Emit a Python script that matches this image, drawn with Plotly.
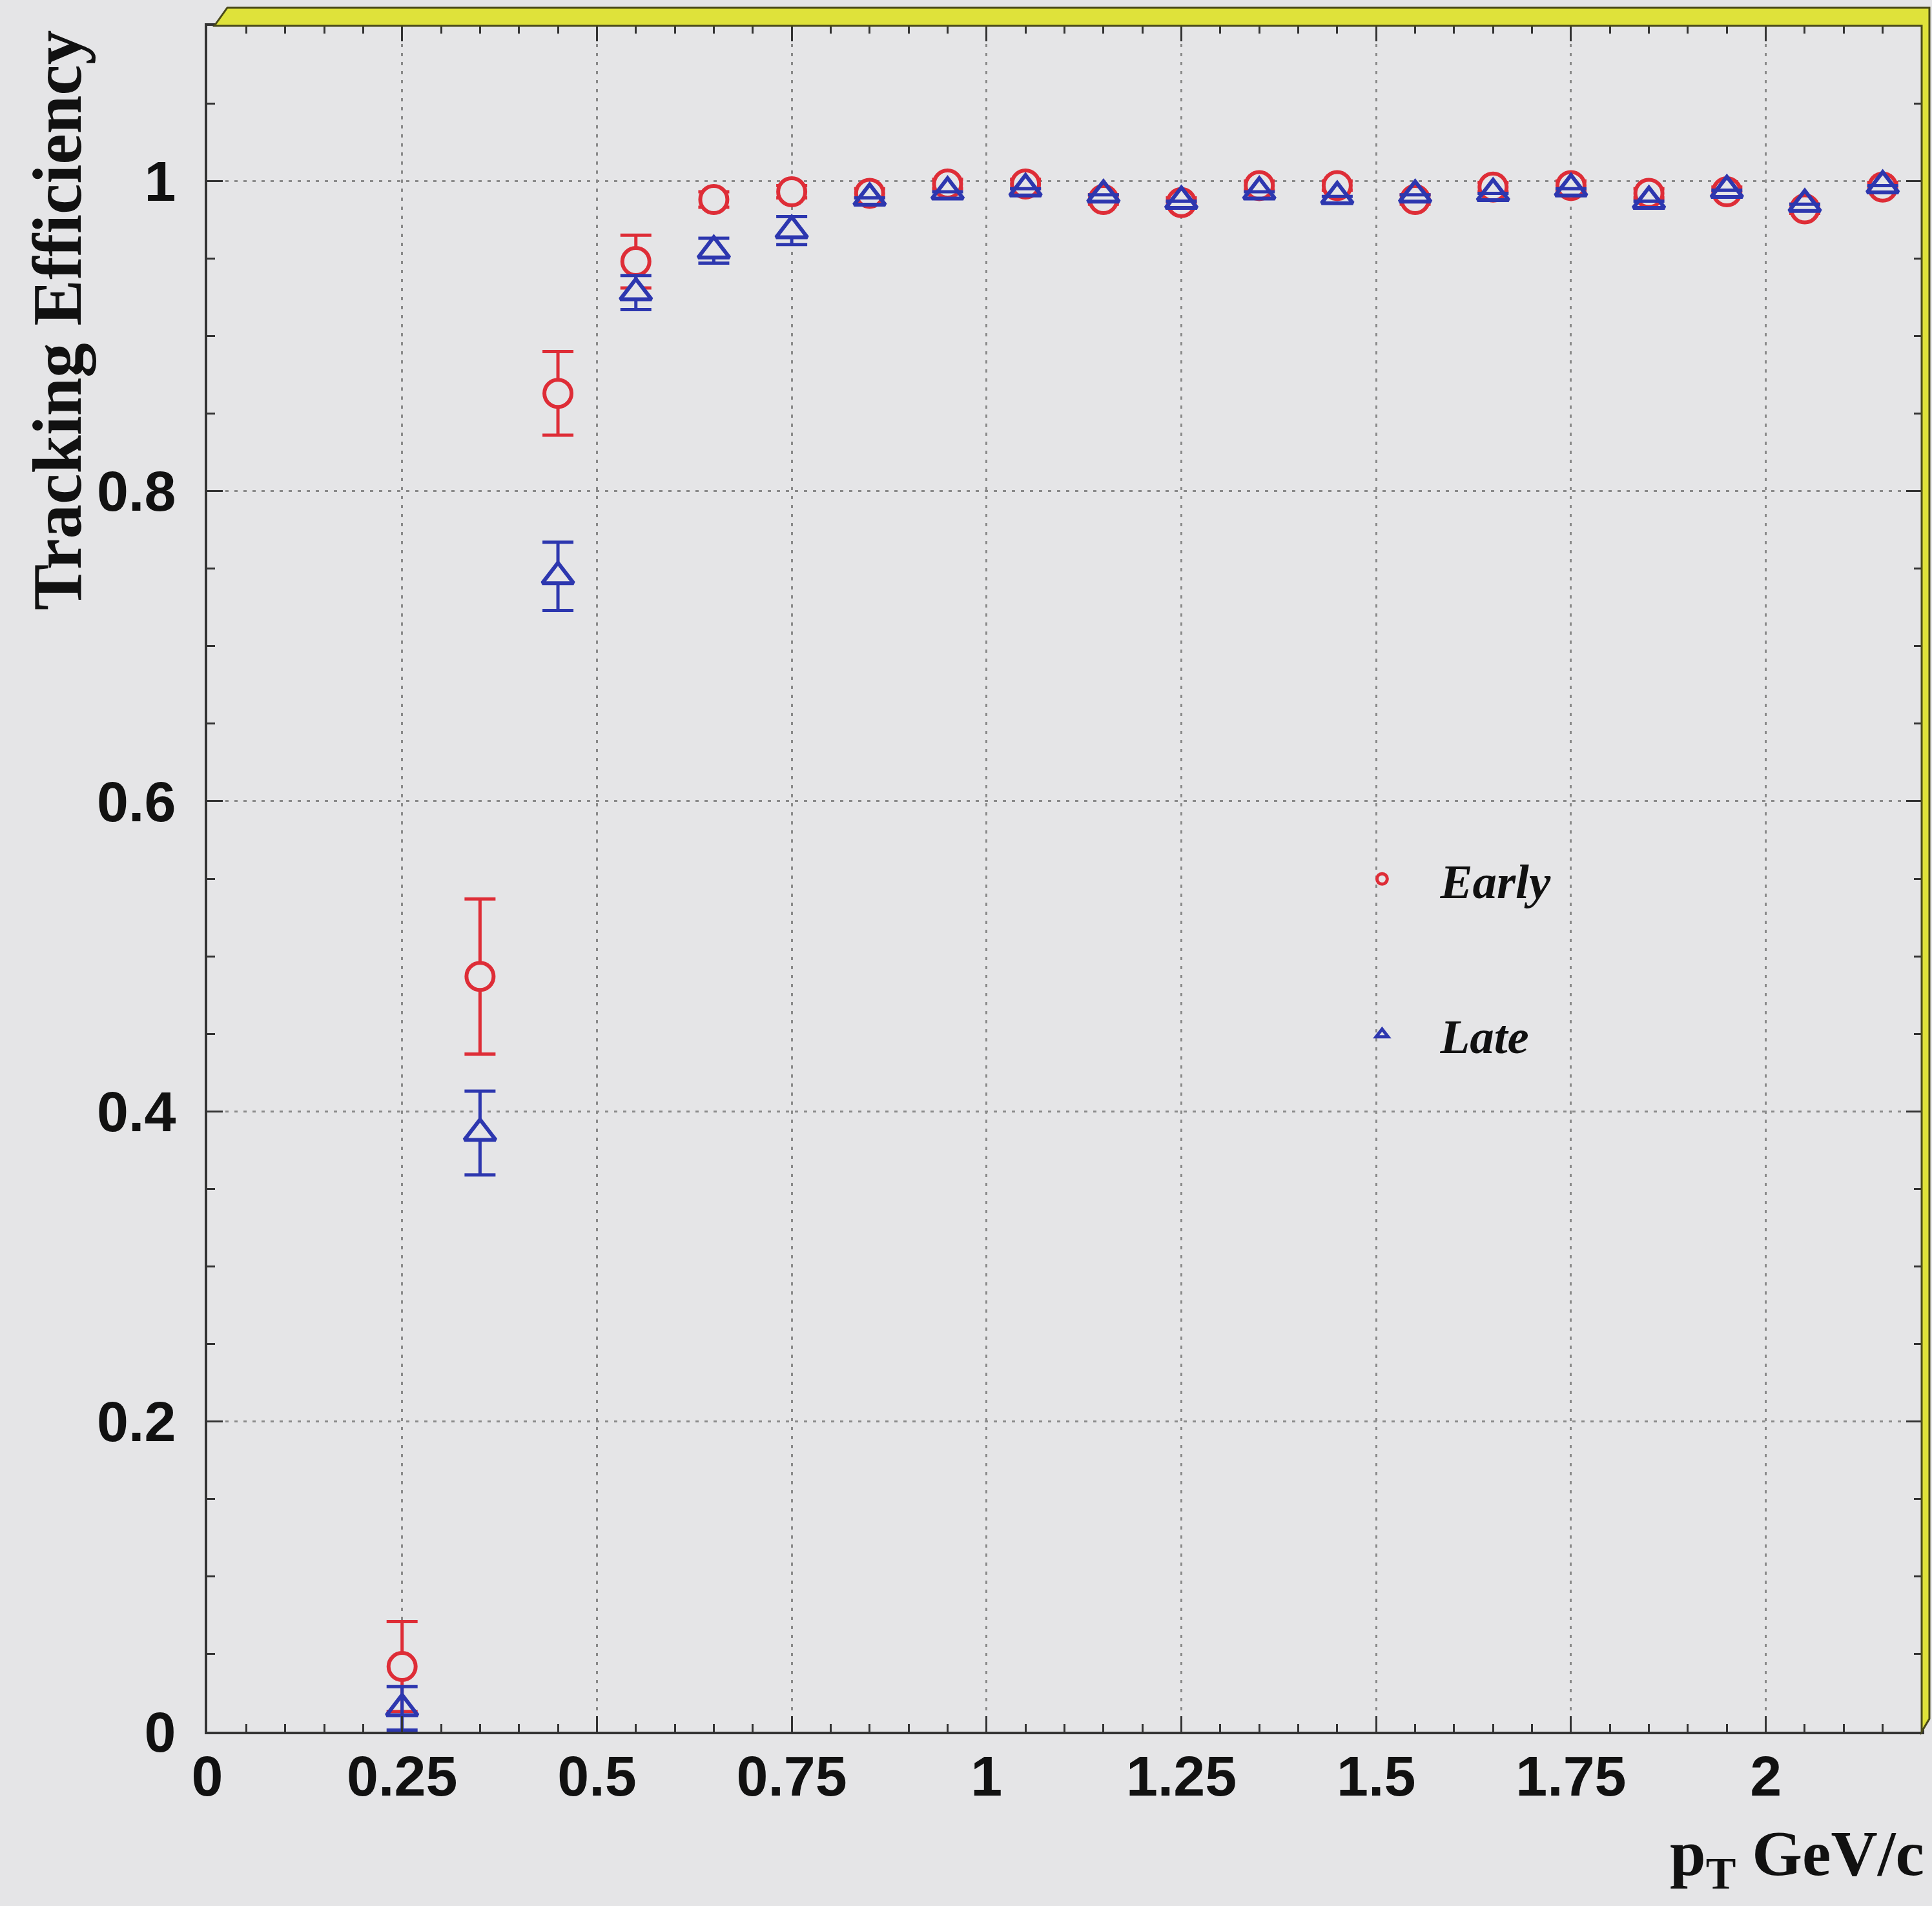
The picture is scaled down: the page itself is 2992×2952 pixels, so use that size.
import plotly.graph_objects as go

# ---------------- data ----------------
pt = [0.25, 0.35, 0.45, 0.55, 0.65, 0.75, 0.85, 0.95, 1.05, 1.15,
      1.25, 1.35, 1.45, 1.55, 1.65, 1.75, 1.85, 1.95, 2.05, 2.15]

early_eff = [0.042, 0.487, 0.863, 0.948, 0.988, 0.993, 0.992, 0.998, 0.998, 0.988,
             0.986, 0.997, 0.997, 0.988, 0.996, 0.997, 0.992, 0.993, 0.982, 0.996]
early_err = [0.029, 0.050, 0.027, 0.017, 0.005, 0.004, 0.003, 0.003, 0.003, 0.003,
             0.003, 0.003, 0.003, 0.003, 0.003, 0.003, 0.003, 0.003, 0.003, 0.003]

late_eff = [0.015, 0.386, 0.745, 0.928, 0.955, 0.968, 0.989, 0.993, 0.995, 0.991,
            0.987, 0.993, 0.990, 0.991, 0.992, 0.995, 0.987, 0.994, 0.985, 0.997]
late_err = [0.014, 0.027, 0.022, 0.011, 0.008, 0.009, 0.0, 0.0, 0.0, 0.0,
            0.0, 0.0, 0.0, 0.0, 0.0, 0.0, 0.0, 0.0, 0.0, 0.0]

series_names = ["Early", "Late"]
x_tick_vals = [0, 0.25, 0.5, 0.75, 1, 1.25, 1.5, 1.75, 2]
x_tick_text = ["0", "0.25", "0.5", "0.75", "1", "1.25", "1.5", "1.75", "2"]
y_tick_vals = [0, 0.2, 0.4, 0.6, 0.8, 1]
y_tick_text = ["0", "0.2", "0.4", "0.6", "0.8", "1"]
x_title = "p<sub>T</sub> GeV/c"
y_title = "Tracking Efficiency"

# ---------------- style ----------------
W, H = 2992, 2952
L, R, T, B = 321, 2980, 40, 2682
BG = "#e5e5e7"
RED = "rgb(222,45,55)"
BLUE = "rgb(45,55,175)"
AXC = "#333333"
GRIDC = "#8a8a8a"


def px2x(px):
    return (px - L) / (R - L)


def py2y(py):
    return (B - py) / (B - T)


# fills: background colour where an error bar would cross the open marker
early_fill = [BG] * len(pt)
late_fill = [BG if 1 <= i <= 5 else "rgba(0,0,0,0)" for i in range(len(pt))]

fig = go.Figure()
fig.add_trace(go.Scatter(
    x=pt, y=early_eff, mode="markers", name=series_names[0],
    legendgroup="g1",
    marker=dict(symbol="circle", size=42, color=early_fill,
                line=dict(color=RED, width=6)),
    error_y=dict(type="data", array=early_err, color=RED, thickness=5, width=24),
))
fig.add_trace(go.Scatter(
    x=pt, y=late_eff, mode="markers", name=series_names[1],
    legendgroup="g2",
    marker=dict(symbol="triangle-up", size=42, color=late_fill,
                line=dict(color=BLUE, width=6)),
    error_y=dict(type="data", array=late_err, color=BLUE, thickness=5, width=24),
))

axis_common = dict(
    ticks="inside", ticklen=24, tickwidth=3, tickcolor=AXC,
    showline=True, linecolor=AXC, linewidth=4, mirror="ticks",
    showgrid=True, gridcolor=GRIDC, gridwidth=3, griddash="5px,9px",
    zeroline=False,
    tickfont=dict(family="Liberation Sans", size=88, color="#111111", weight="bold"),
    minor=dict(dtick=0.05, tick0=0, ticks="inside", ticklen=12, tickwidth=3,
               tickcolor=AXC, showgrid=False),
)

fig.update_xaxes(range=[0, 2.2], tickmode="array", tickvals=x_tick_vals,
                 ticktext=x_tick_text, ticklabelstandoff=-11, **axis_common)
fig.update_yaxes(range=[0, 1.1], tickmode="array", tickvals=y_tick_vals,
                 ticktext=y_tick_text, ticklabelstandoff=27, **axis_common)

band = [(332, 40), (352, 12), (2992, 12), (2992, 2662), (2980, 2682), (2980, 40)]
path = "M " + " L ".join(f"{px2x(a):.5f},{py2y(b):.5f}" for a, b in band) + " Z"

fig.update_layout(
    width=W, height=H,
    margin=dict(l=L, r=W - R, t=T, b=H - B, pad=0),
    paper_bgcolor=BG, plot_bgcolor=BG,
    showlegend=True,
    legend=dict(x=px2x(2053), y=py2y(1306), xanchor="left", yanchor="top",
                bgcolor="rgba(0,0,0,0)", borderwidth=0, tracegroupgap=140,
                itemsizing="trace", itemwidth=170,
                font=dict(family="Liberation Serif", size=75, color="#111111",
                          weight="bold", style="italic")),
    shapes=[dict(type="path", xref="paper", yref="paper", path=path,
                 fillcolor="#dfe23a", line=dict(color="#4a4a1a", width=3),
                 layer="above")],
    annotations=[
        dict(text=y_title, xref="paper", yref="paper", x=px2x(90), y=py2y(496),
             xanchor="center", yanchor="middle", textangle=-90, showarrow=False,
             font=dict(family="Liberation Serif", size=107, color="#111111",
                       weight="bold")),
        dict(text=x_title, xref="paper", yref="paper", x=px2x(2986), y=py2y(2878),
             xanchor="right", yanchor="middle", showarrow=False,
             font=dict(family="Liberation Serif", size=100, color="#111111",
                       weight="bold")),
    ],
)

fig.write_html("out.html")
